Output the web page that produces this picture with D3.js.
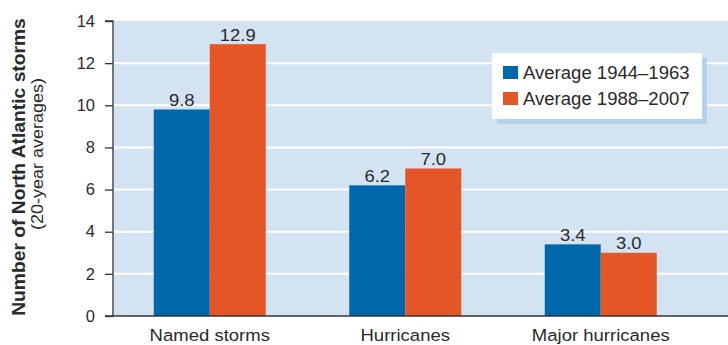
<!DOCTYPE html>
<html>
<head>
<meta charset="utf-8">
<script src="https://cdn.jsdelivr.net/npm/d3@7"></script>
<style>
  html, body { margin: 0; padding: 0; background: #fff; }
  svg { display: block; font-family: "Liberation Sans", Arial, Helvetica, sans-serif; }
</style>
</head>
<body>
<svg id="chart" width="728" height="345"></svg>
<script>
// Storm counts, 20-year averages
const categories = ["Named storms", "Hurricanes", "Major hurricanes"];
const seriesNames = ["Average 1944\u20131963", "Average 1988\u20132007"];
const avg1944to1963 = [9.8, 6.2, 3.4];
const avg1988to2007 = [12.9, 7.0, 3.0];
const yTicks = [0, 2, 4, 6, 8, 10, 12, 14];

const colors = ["#0067ab", "#e65528"];
const series = [avg1944to1963, avg1988to2007];
const ink = "#2a2a2a";

const svg = d3.select("#chart");
const plot = { left: 113, right: 728, top: 21, bottom: 316 };

const y = d3.scaleLinear().domain([0, 14]).range([plot.bottom, plot.top]);
const x = d3.scaleBand().domain(categories).range([112, 698.5]).padding(0);
const barW = 56;

// Plot background
svg.append("rect")
  .attr("x", plot.left).attr("y", plot.top)
  .attr("width", plot.right - plot.left).attr("height", plot.bottom - plot.top)
  .attr("fill", "#d3e3f2");

// Horizontal grid lines
svg.append("g")
  .selectAll("line")
  .data(yTicks.filter(t => t > 0 && t < 14))
  .join("line")
  .attr("x1", plot.left).attr("x2", plot.right)
  .attr("y1", d => y(d)).attr("y2", d => y(d))
  .attr("stroke", "#ffffff").attr("stroke-width", 2);

// Bars and value labels
const groups = svg.append("g")
  .selectAll("g")
  .data(categories)
  .join("g")
  .attr("transform", c => `translate(${x(c) + x.bandwidth() / 2 - barW},0)`);

series.forEach((vals, si) => {
  groups.append("rect")
    .attr("x", si * barW)
    .attr("y", (c, i) => y(vals[i]))
    .attr("width", barW)
    .attr("height", (c, i) => y(0) - y(vals[i]))
    .attr("fill", colors[si]);
  groups.append("text")
    .attr("transform", (c, i) => `translate(${si * barW + barW / 2},${y(vals[i]) - 3.5}) scale(1.12,1)`)
    .attr("text-anchor", "middle")
    .attr("font-size", 16.5)
    .attr("fill", ink)
    .text((c, i) => vals[i].toFixed(1));
});

// Y axis
const yAxis = d3.axisLeft(y).tickValues(yTicks).tickSize(8).tickPadding(10).tickFormat(d3.format("d"));
const gy = svg.append("g")
  .attr("transform", `translate(${plot.left},0)`)
  .call(yAxis);
gy.select(".domain").attr("stroke", "#333").attr("stroke-width", 1.3).attr("d", `M-8,${plot.top}H0V${plot.bottom}`);
gy.selectAll(".tick line").attr("stroke", "#333").attr("stroke-width", 1.3);
gy.selectAll(".tick text").attr("font-size", 16.5).attr("fill", ink).attr("font-family", null);

// Baseline across the plot
svg.append("line")
  .attr("x1", plot.left - 8).attr("x2", plot.right)
  .attr("y1", plot.bottom).attr("y2", plot.bottom)
  .attr("stroke", "#333").attr("stroke-width", 1.3);

// Category labels
svg.append("g")
  .selectAll("text")
  .data(categories)
  .join("text")
  .attr("transform", c => `translate(${x(c) + x.bandwidth() / 2},341) scale(1.09,1)`)
  .attr("text-anchor", "middle")
  .attr("font-size", 17)
  .attr("fill", ink)
  .text(c => c);

// Y axis title and subtitle
svg.append("text")
  .attr("transform", "translate(25,167) rotate(-90) scale(1.07,1)")
  .attr("text-anchor", "middle")
  .attr("font-weight", "bold").attr("font-size", 18)
  .attr("fill", ink)
  .text("Number of North Atlantic storms");
svg.append("text")
  .attr("transform", "translate(43,154) rotate(-90) scale(1.06,1)")
  .attr("text-anchor", "middle")
  .attr("font-size", 17)
  .attr("fill", ink)
  .text("(20-year averages)");

// Legend with offset shadow
const lg = { x: 492, y: 53, w: 210, h: 66 };
svg.append("rect")
  .attr("x", lg.x + 5).attr("y", lg.y + 5).attr("width", lg.w).attr("height", lg.h)
  .attr("fill", "#b3d2ea");
svg.append("rect")
  .attr("x", lg.x).attr("y", lg.y).attr("width", lg.w).attr("height", lg.h)
  .attr("fill", "#ffffff");
const items = svg.append("g")
  .selectAll("g")
  .data(seriesNames)
  .join("g")
  .attr("transform", (d, i) => `translate(${lg.x + 11},${lg.y + 13 + i * 26})`);
items.append("rect")
  .attr("width", 15).attr("height", 13)
  .attr("fill", (d, i) => colors[i]);
items.append("text")
  .attr("transform", "translate(20,12.5) scale(1.06,1)")
  .attr("font-size", 17.5)
  .attr("fill", ink)
  .text(d => d);
</script>
</body>
</html>
